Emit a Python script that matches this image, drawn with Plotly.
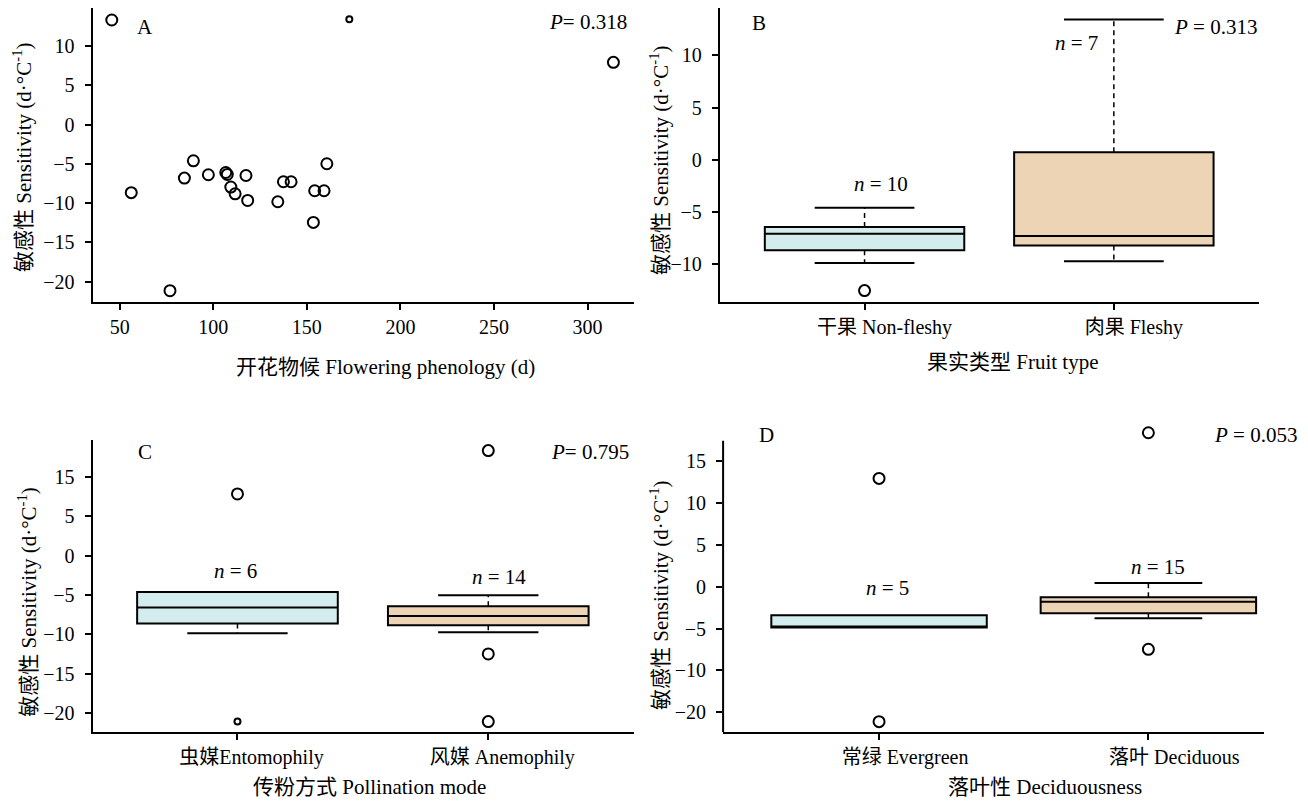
import plotly.graph_objects as go

# The page body adds an 8 px margin, so the figure is drawn 8 px in from the corner.
OFF = 8
W, H = 1308 - OFF, 802 - OFF
FONT = "Liberation Serif, Noto Sans CJK SC, serif"
CYAN = "#d3eced"
TAN = "#ecd4b5"

# ---------------- Panel A: scatter ----------------
a_x = [45.8, 313.8, 89.4, 84.6, 97.4, 106.7, 107.5, 117.5, 109.4, 111.7,
       118.4, 134.5, 137.5, 141.6, 160.7, 154.2, 159.2, 153.5, 56.2, 76.9]
a_y = [13.3, 7.92, -4.61, -6.81, -6.39, -6.10, -6.35, -6.48, -7.95, -8.81,
       -9.66, -9.82, -7.28, -7.28, -4.99, -8.42, -8.42, -12.45, -8.67, -21.14]
a_small_x = [172.7]
a_small_y = [13.4]
a_xticks = [50, 100, 150, 200, 250, 300]
a_yticks = [-20, -15, -10, -5, 0, 5, 10]

# ---------------- Panel B: fruit type ----------------
b_cats = ["干果 Non-fleshy", "肉果 Fleshy"]
b_q1 = [-8.66, -8.21]
b_med = [-7.07, -7.29]
b_q3 = [-6.43, 0.72]
b_lo = [-9.87, -9.71]
b_hi = [-4.58, 13.44]
b_out_grp = [0]
b_out_y = [-12.52]
b_small_grp = []
b_small_y = []
b_n = ["10", "7"]
b_yticks = [-10, -5, 0, 5, 10]
b_ylabels = ["−10", "−5", "0", "5", "10"]

# ---------------- Panel C: pollination ----------------
c_cats = ["虫媒Entomophily", "风媒 Anemophily"]
c_q1 = [-8.64, -8.86]
c_med = [-6.61, -7.67]
c_q3 = [-4.62, -6.44]
c_lo = [-9.87, -9.75]
c_hi = [-4.62, -5.04]
c_out_grp = [0, 1, 1, 1]
c_out_y = [7.84, 13.35, -12.5, -21.1]
c_small_grp = [0]
c_small_y = [-21.1]
c_n = ["6", "14"]
c_yticks = [-20, -15, -10, -5, 0, 5, 10]
c_ylabels = ["−20", "−15", "−10", "−5", "0", "5", "15"]

# ---------------- Panel D: deciduousness ----------------
d_cats = ["常绿 Evergreen", "落叶 Deciduous"]
d_q1 = [-4.89, -3.18]
d_med = [-4.81, -1.79]
d_q3 = [-3.42, -1.27]
d_lo = [-4.89, -3.78]
d_hi = [-3.42, 0.44]
d_out_grp = [0, 0, 1, 1]
d_out_y = [12.93, -16.12, 18.38, -7.48]
d_small_grp = []
d_small_y = []
d_n = ["5", "15"]
d_yticks = [-15, -10, -5, 0, 5, 10, 15]
d_ylabels = ["−20", "−10", "−5", "0", "5", "10", "15"]

fig = go.Figure()


def px2x(p):
    return (p - OFF) / W


def px2y(p):
    return 1 - (p - OFF) / H


# D: axis line stops at 17.43 but the range extends to show the top outlier
D_LINE_TOP = 17.43
D_TOP = 19.3
D_PPU = 8.377  # px per unit in panel D
d_dom_top = 440.7 - (D_TOP - D_LINE_TOP) * D_PPU

dom = {
    1: dict(x=[px2x(92.5), px2x(634)], y=[px2y(301.7), px2y(8)]),
    2: dict(x=[px2x(719.7), px2x(1258.7)], y=[px2y(301.7), px2y(8)]),
    3: dict(x=[px2x(92.5), px2x(634)], y=[px2y(732.3), px2y(440)]),
    4: dict(x=[px2x(723.1), px2x(1264.2)], y=[px2y(732.3), px2y(d_dom_top)]),
}
ranges = {
    1: dict(x=[35.5, 324.8], y=[-22.54, 14.83]),
    2: dict(x=[-0.581, 1.581], y=[-13.58, 14.53]),
    3: dict(x=[-0.578, 1.581], y=[-22.46, 14.7]),
    4: dict(x=[-0.579, 1.430], y=[-17.39, D_TOP]),
}

MK = dict(symbol="circle-open", color="black", size=11, line=dict(width=2, color="black"))
MK_S = dict(symbol="circle-open", color="black", size=6, line=dict(width=2, color="black"))

fig.add_trace(go.Scatter(x=a_x, y=a_y, mode="markers", marker=MK, xaxis="x", yaxis="y",
                         showlegend=False, cliponaxis=False))
fig.add_trace(go.Scatter(x=a_small_x, y=a_small_y, mode="markers", marker=MK_S, xaxis="x", yaxis="y",
                         showlegend=False, cliponaxis=False))


def add_boxes(k, cats, q1, med, q3, lo, hi, out_grp, out_y, small_grp, small_y):
    xa = "x%d" % k
    ya = "y%d" % k
    fills = [CYAN, TAN]
    for i in range(len(cats)):
        fig.add_trace(go.Box(x=[i], q1=[q1[i]], median=[med[i]], q3=[q3[i]],
                             lowerfence=[q1[i]], upperfence=[q3[i]], width=0.8,
                             fillcolor=fills[i], line=dict(color="black", width=2),
                             whiskerwidth=0, boxpoints=False, xaxis=xa, yaxis=ya,
                             showlegend=False, hoverinfo="skip"))
        if hi[i] != q3[i]:
            fig.add_trace(go.Scatter(x=[i, i], y=[q3[i], hi[i]], mode="lines",
                                     line=dict(color="black", width=1.5, dash="5px,4px"),
                                     xaxis=xa, yaxis=ya, showlegend=False))
            fig.add_trace(go.Scatter(x=[i - 0.2, i + 0.2], y=[hi[i], hi[i]], mode="lines",
                                     line=dict(color="black", width=2),
                                     xaxis=xa, yaxis=ya, showlegend=False))
        if lo[i] != q1[i]:
            fig.add_trace(go.Scatter(x=[i, i], y=[q1[i], lo[i]], mode="lines",
                                     line=dict(color="black", width=1.5, dash="5px,4px"),
                                     xaxis=xa, yaxis=ya, showlegend=False))
            fig.add_trace(go.Scatter(x=[i - 0.2, i + 0.2], y=[lo[i], lo[i]], mode="lines",
                                     line=dict(color="black", width=2),
                                     xaxis=xa, yaxis=ya, showlegend=False))
    if out_y:
        fig.add_trace(go.Scatter(x=out_grp, y=out_y, mode="markers", marker=MK,
                                 xaxis=xa, yaxis=ya, showlegend=False, cliponaxis=False))
    if small_y:
        fig.add_trace(go.Scatter(x=small_grp, y=small_y, mode="markers", marker=MK_S,
                                 xaxis=xa, yaxis=ya, showlegend=False, cliponaxis=False))


add_boxes(2, b_cats, b_q1, b_med, b_q3, b_lo, b_hi, b_out_grp, b_out_y, b_small_grp, b_small_y)
add_boxes(3, c_cats, c_q1, c_med, c_q3, c_lo, c_hi, c_out_grp, c_out_y, c_small_grp, c_small_y)
add_boxes(4, d_cats, d_q1, d_med, d_q3, d_lo, d_hi, d_out_grp, d_out_y, d_small_grp, d_small_y)

axis_common = dict(showline=True, linewidth=2, linecolor="black", ticks="outside",
                   ticklen=6, tickwidth=1.5, tickcolor="black", showgrid=False,
                   zeroline=False, tickfont=dict(family=FONT, size=20, color="black"))

layout = dict(width=W, height=H, margin=dict(l=0, r=0, t=0, b=0),
              paper_bgcolor="white", plot_bgcolor="white", boxmode="overlay",
              showlegend=False, font=dict(family=FONT, color="black"))

xticks = {
    1: dict(tickvals=a_xticks),
    2: dict(tickvals=[0, 1], ticktext=b_cats, ticklabelshift=20),
    3: dict(tickvals=[0, 1], ticktext=c_cats, ticklabelshift=14),
    4: dict(tickvals=[0, 1], ticktext=d_cats, ticklabelshift=26),
}
yticks = {
    1: dict(tickvals=a_yticks),
    2: dict(tickvals=b_yticks, ticktext=b_ylabels),
    3: dict(tickvals=c_yticks, ticktext=c_ylabels),
    4: dict(tickvals=d_yticks, ticktext=d_ylabels),
}
for k in range(1, 5):
    sx = "" if k == 1 else str(k)
    layout["xaxis" + sx] = dict(axis_common, domain=dom[k]["x"], range=ranges[k]["x"],
                                anchor="y" + sx, ticklabelstandoff=0, **xticks[k])
    layout["yaxis" + sx] = dict(axis_common, domain=dom[k]["y"], range=ranges[k]["y"],
                                anchor="x" + sx, ticklabelstandoff=6, **yticks[k])
layout["yaxis4"]["showline"] = False

fig.update_layout(**layout)

# panel D y-axis line drawn only up to its original top
fig.add_shape(type="line", xref="x4 domain", yref="y4", x0=0, x1=0,
              y0=ranges[4]["y"][0], y1=D_LINE_TOP, line=dict(color="black", width=2))

YT = "敏感性 Sensitivity (d·°C<sup>-1</sup>)"
ann = []


def text(x, y, s, size=21, angle=0):
    ann.append(dict(x=px2x(x), y=px2y(y), xref="paper", yref="paper", text=s,
                    showarrow=False, textangle=angle, xanchor="center", yanchor="middle",
                    font=dict(family=FONT, size=size, color="black")))


# axis titles
text(385, 367, "开花物候 Flowering phenology (d)")
text(1012.8, 361.7, "果实类型 Fruit type")
text(369, 787, "传粉方式 Pollination mode")
text(1044.8, 787, "落叶性 Deciduousness")
text(22, 157, YT, angle=-90)
text(659, 160, YT, angle=-90)
text(28, 601.7, YT, angle=-90)
text(659, 595, YT, angle=-90)

# panel letters and P values
text(145, 26.7, "A")
text(588, 21.7, "<i>P</i>= 0.318")
text(759.3, 22.7, "B")
text(1215.5, 26.7, "<i>P</i> = 0.313")
text(144.6, 451.7, "C")
text(589.6, 451.7, "<i>P</i>= 0.795")
text(766.5, 435, "D")
text(1255.8, 435, "<i>P</i> = 0.053")

# sample sizes
text(880.7, 184.3, "<i>n</i> = " + b_n[0])
text(1076.7, 43.3, "<i>n</i> = " + b_n[1])
text(235.4, 570.7, "<i>n</i> = " + c_n[0])
text(498.75, 576.7, "<i>n</i> = " + c_n[1])
text(887.1, 587.7, "<i>n</i> = " + d_n[0])
text(1157.7, 567.3, "<i>n</i> = " + d_n[1])

fig.update_layout(annotations=ann)
fig.write_html("out.html")
